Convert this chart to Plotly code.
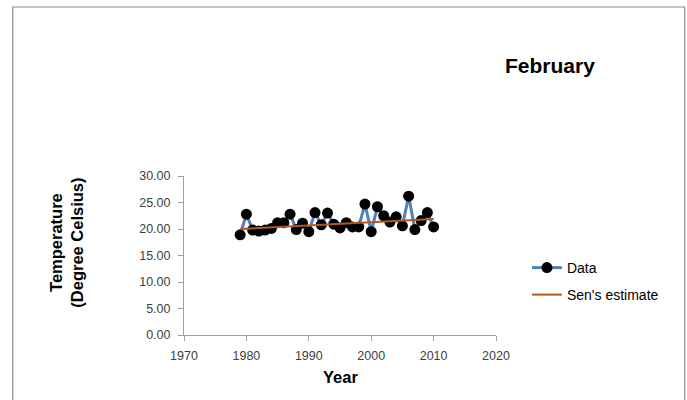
import plotly.graph_objects as go

years = list(range(1979, 2011))
temps = [18.9, 22.8, 19.8, 19.6, 19.8, 20.1, 21.2, 21.2, 22.8, 19.9, 21.1, 19.5,
         23.1, 20.8, 23.0, 20.9, 20.2, 21.2, 20.4, 20.4, 24.7, 19.5, 24.2, 22.5,
         21.3, 22.3, 20.6, 26.2, 19.9, 21.6, 23.1, 20.4]
sen_years = [1979, 2010]
sen_values = [20.0, 21.9]
x_ticks = [1970, 1980, 1990, 2000, 2010, 2020]
y_ticks = [0, 5, 10, 15, 20, 25, 30]
y_tick_labels = [f"{v:.2f}" for v in y_ticks]

FONT = "Arial, Liberation Sans, sans-serif"
W, H = 687, 400
L, R, T, B = 183.5, 191, 176, 65
pw = W - L - R
ph = H - T - B

def px(x):
    return (x - L) / pw

def py(y):
    return (H - B - y) / ph

fig = go.Figure()
fig.add_trace(go.Scatter(
    x=years, y=temps, mode="lines+markers", name="Data",
    line=dict(color="#4F81BD", width=3),
    marker=dict(color="black", size=11),
    legend="legend",
))
fig.add_trace(go.Scatter(
    x=sen_years, y=sen_values, mode="lines", name="Sen's estimate",
    line=dict(color="#B05A1C", width=2),
    legend="legend2",
))

axis_common = dict(
    showgrid=False, zeroline=False, showline=True, linecolor="#a0a0a0",
    linewidth=1, ticks="outside", ticklen=5, tickcolor="#a0a0a0",
    tickfont=dict(family=FONT, size=12.5, color="#404040"),
)

fig.update_layout(
    width=W, height=H,
    margin=dict(l=L, r=R, t=T, b=B, autoexpand=False),
    paper_bgcolor="white", plot_bgcolor="white",
    xaxis=dict(range=[1970, 2020], tickvals=x_ticks, ticklabelstandoff=4, **axis_common),
    yaxis=dict(range=[0, 30], tickvals=y_ticks, ticktext=y_tick_labels,
               ticklabelstandoff=5, **axis_common),
    legend=dict(x=px(527), y=py(268), xanchor="left", yanchor="middle",
                font=dict(family=FONT, size=14, color="black"), bgcolor="rgba(0,0,0,0)"),
    legend2=dict(x=px(527), y=py(295), xanchor="left", yanchor="middle",
                 font=dict(family=FONT, size=14, color="black"), bgcolor="rgba(0,0,0,0)"),
    showlegend=True,
)

fig.add_annotation(text="<b>February</b>", xref="paper", yref="paper",
                   x=px(550), y=py(66), xanchor="center", yanchor="middle", showarrow=False,
                   font=dict(family=FONT, size=21, color="black"))
fig.add_annotation(text="<b>Year</b>", xref="paper", yref="paper",
                   x=px(340), y=py(377), xanchor="center", yanchor="middle", showarrow=False,
                   font=dict(family=FONT, size=16.5, color="black"))
fig.add_annotation(text="<b>Temperature<br>(Degree Celsius)</b>", xref="paper", yref="paper",
                   x=px(65), y=py(243), xanchor="center", yanchor="middle", showarrow=False,
                   textangle=-90,
                   font=dict(family=FONT, size=16.5, color="black"))

fig.add_shape(type="rect", xref="paper", yref="paper",
              x0=px(12), x1=px(685), y0=py(410), y1=py(7),
              line=dict(color="#8c8c8c", width=1.2), fillcolor="rgba(0,0,0,0)")

fig.write_html("out.html")
